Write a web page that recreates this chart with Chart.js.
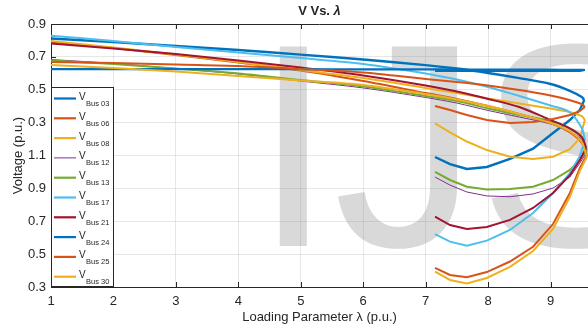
<!DOCTYPE html>
<html>
<head>
<meta charset="utf-8">
<script src="https://cdn.jsdelivr.net/npm/chart.js@4.4.0/dist/chart.umd.min.js"></script>
<style>
  html, body { margin: 0; padding: 0; background: #fff; }
  #wrap { width: 588px; height: 328px; position: relative; }
</style>
</head>
<body>
<div id="wrap"><canvas id="pvChart"></canvas></div>
<script>
// loading parameter steps (upper branch from base case, lower branch back from the nose)
const lambdaUpper = [1, 2, 3, 4, 5, 6, 7, 7.5, 8, 8.5, 9, 9.3, 9.5];
const lambdaLower = [9.47, 9.31, 9.04, 8.72, 8.35, 7.98, 7.66, 7.39, 7.15];

const busNames = ['Bus 03', 'Bus 06', 'Bus 08', 'Bus 12', 'Bus 13', 'Bus 17', 'Bus 21', 'Bus 24', 'Bus 25', 'Bus 30'];
const yTickLabels = ['0.3', '0.5', '0.7', '0.9', '1.1', '0.3', '0.5', '0.7', '0.9'];

// nose point of each curve
const noseLambda = [9.54, 9.58, 9.55, 9.58, 9.58, 9.55, 9.57, 9.55, 9.55, 9.58];
const noseV = [1.438, 1.103, 1.316, 1.121, 1.133, 1.194, 1.146, 1.620, 1.395, 1.091];

// voltages on the plot's continuous axis (0.3 .. 1.9)
const vUpperBus03 = [1.812, 1.790, 1.766, 1.742, 1.714, 1.684, 1.650, 1.629, 1.602, 1.571, 1.535, 1.495, 1.456];
const vUpperBus06 = [1.790, 1.754, 1.711, 1.666, 1.617, 1.553, 1.480, 1.444, 1.401, 1.352, 1.298, 1.243, 1.176];
const vUpperBus08 = [1.796, 1.757, 1.714, 1.669, 1.620, 1.571, 1.511, 1.480, 1.447, 1.416, 1.386, 1.365, 1.340];
const vUpperBus12 = [1.684, 1.660, 1.629, 1.596, 1.553, 1.511, 1.453, 1.419, 1.374, 1.334, 1.292, 1.249, 1.194];
const vUpperBus13 = [1.678, 1.657, 1.629, 1.599, 1.559, 1.520, 1.462, 1.431, 1.386, 1.346, 1.310, 1.267, 1.212];
const vUpperBus17 = [1.829, 1.796, 1.760, 1.726, 1.693, 1.657, 1.599, 1.562, 1.517, 1.462, 1.404, 1.365, 1.267];
const vUpperBus21 = [1.782, 1.751, 1.717, 1.678, 1.635, 1.587, 1.526, 1.489, 1.444, 1.395, 1.316, 1.267, 1.212];
const vUpperBus24 = [1.626, 1.626, 1.626, 1.625, 1.625, 1.624, 1.624, 1.623, 1.623, 1.622, 1.622, 1.621, 1.621];
const vUpperBus25 = [1.669, 1.663, 1.653, 1.644, 1.626, 1.605, 1.565, 1.547, 1.526, 1.498, 1.465, 1.438, 1.413];
const vUpperBus30 = [1.650, 1.632, 1.611, 1.584, 1.556, 1.529, 1.474, 1.441, 1.401, 1.352, 1.298, 1.249, 1.182];

const vLowerBus03 = [1.377, 1.316, 1.237, 1.142, 1.079, 1.030, 1.018, 1.048, 1.091];
const vLowerBus06 = [1.024, 0.872, 0.683, 0.545, 0.455, 0.391, 0.359, 0.373, 0.416];
const vLowerBus08 = [1.206, 1.139, 1.093, 1.079, 1.093, 1.133, 1.185, 1.241, 1.296];
const vLowerBus12 = [1.054, 0.969, 0.902, 0.866, 0.849, 0.854, 0.878, 0.920, 0.969];
const vLowerBus13 = [1.073, 1.012, 0.951, 0.910, 0.896, 0.893, 0.910, 0.951, 1.000];
const vLowerBus17 = [1.097, 0.993, 0.872, 0.750, 0.647, 0.582, 0.551, 0.576, 0.622];
const vLowerBus21 = [1.073, 0.981, 0.872, 0.781, 0.708, 0.665, 0.653, 0.677, 0.728];
const vLowerBus24 = [1.615, 1.615, 1.615, 1.615, 1.615, 1.615, 1.615, 1.615, 1.615];
const vLowerBus25 = [1.371, 1.346, 1.322, 1.304, 1.298, 1.316, 1.346, 1.377, 1.401];
const vLowerBus30 = [1.007, 0.849, 0.653, 0.519, 0.423, 0.355, 0.322, 0.343, 0.393];

const upperSeries = [vUpperBus03, vUpperBus06, vUpperBus08, vUpperBus12, vUpperBus13, vUpperBus17, vUpperBus21, vUpperBus24, vUpperBus25, vUpperBus30];
const lowerSeries = [vLowerBus03, vLowerBus06, vLowerBus08, vLowerBus12, vLowerBus13, vLowerBus17, vLowerBus21, vLowerBus24, vLowerBus25, vLowerBus30];

// matlab default line colours
const busColors = ['#0072BD', '#D95319', '#EDB120', '#7E2F8E', '#77AC30', '#4DBEEE', '#A2142F', '#0072BD', '#D95319', '#EDB120'];
const busWidths = [2.4, 2, 2, 1, 2, 2, 2, 2.2, 2, 2];

const FONT = '"Liberation Sans", Arial, Helvetica, sans-serif';
const TEXT = '#262626';

const datasets = [];
busNames.forEach(function (name, i) {
    const nose = { x: noseLambda[i], y: noseV[i] };
    const up = lambdaUpper.map((l, k) => ({ x: l, y: upperSeries[i][k] }));
    up.push(nose);
    const low = [nose].concat(lambdaLower.map((l, k) => ({ x: l, y: lowerSeries[i][k] })));
    const base = {
        showLine: true, pointRadius: 0, borderColor: busColors[i],
        borderWidth: busWidths[i], fill: false, order: busNames.length - i
    };
    datasets.push(Object.assign({ label: name, data: up, tension: 0.3 }, base));
    datasets.push(Object.assign({ label: name + ' low', data: low, tension: 0 }, base));
});

// big grey "IJS" behind the curves
const watermark = {
    id: 'watermark',
    beforeDatasetsDraw(chart) {
        const { ctx, chartArea: a } = chart;
        ctx.save();
        ctx.beginPath();
        ctx.rect(a.left, a.top, a.width, a.height);
        ctx.clip();
        ctx.fillStyle = 'rgba(130,130,130,0.3)';
        ctx.font = '290px ' + FONT;
        ctx.textBaseline = 'alphabetic';
        ctx.fillText('IJS', a.left + 202, a.top + 222);
        ctx.restore();
    }
};

// inward tick marks + top box line, matlab style
const boxTicks = {
    id: 'boxTicks',
    afterDatasetsDraw(chart) {
        const { ctx, chartArea: a, scales } = chart;
        ctx.save();
        ctx.strokeStyle = TEXT;
        ctx.lineWidth = 1;
        ctx.beginPath();
        ctx.moveTo(a.left, a.top + 0.5);
        ctx.lineTo(a.right, a.top + 0.5);
        scales.x.ticks.forEach(t => {
            const px = Math.round(scales.x.getPixelForValue(t.value)) + 0.5;
            ctx.moveTo(px, a.bottom); ctx.lineTo(px, a.bottom - 5);
            ctx.moveTo(px, a.top); ctx.lineTo(px, a.top + 5);
        });
        scales.y.ticks.forEach(t => {
            const py = Math.round(scales.y.getPixelForValue(t.value)) + 0.5;
            ctx.moveTo(a.left, py); ctx.lineTo(a.left + 5, py);
        });
        ctx.stroke();
        ctx.restore();
    }
};

// legend with V_Bus subscripts + title
const busLegend = {
    id: 'busLegend',
    afterDraw(chart) {
        const { ctx, chartArea: a } = chart;
        const x0 = a.left, y0 = 87, w = 63, h = a.bottom - y0;
        ctx.save();
        ctx.fillStyle = '#fff';
        ctx.fillRect(x0, y0, w, h);
        ctx.strokeStyle = TEXT;
        ctx.lineWidth = 1;
        ctx.strokeRect(x0 + 0.5, y0 + 0.5, w - 1, h - 1);
        busNames.forEach(function (name, i) {
            const y = y0 + 11.5 + i * 19.8;
            ctx.strokeStyle = busColors[i];
            ctx.lineWidth = busWidths[i] === 1 ? 1 : 2.2;
            ctx.beginPath();
            ctx.moveTo(x0 + 3, y);
            ctx.lineTo(x0 + 25, y);
            ctx.stroke();
            ctx.fillStyle = TEXT;
            ctx.textBaseline = 'alphabetic';
            ctx.font = '10px ' + FONT;
            ctx.fillText('V', x0 + 28, y + 1.5);
            ctx.font = '7.5px ' + FONT;
            ctx.fillText(name, x0 + 35, y + 7.5);
        });

        // title "V Vs. λ"
        const cx = (a.left + a.right) / 2;
        ctx.fillStyle = TEXT;
        ctx.textBaseline = 'middle';
        ctx.font = 'bold 13px ' + FONT;
        const part1 = 'V Vs. ';
        const w1 = ctx.measureText(part1).width;
        ctx.font = 'bold italic 13px ' + FONT;
        const w2 = ctx.measureText('λ').width;
        const sx = cx - (w1 + w2) / 2;
        ctx.font = 'bold 13px ' + FONT;
        ctx.fillText(part1, sx, 11);
        ctx.font = 'bold italic 13px ' + FONT;
        ctx.fillText('λ', sx + w1, 11);
        ctx.restore();
    }
};

new Chart(document.getElementById('pvChart'), {
    type: 'scatter',
    data: { datasets: datasets },
    options: {
        responsive: true,
        maintainAspectRatio: false,
        animation: false,
        layout: { padding: { top: 24, right: 0, left: 0, bottom: 0 } },
        plugins: {
            legend: { display: false },
            title: { display: false },
            tooltip: { enabled: false }
        },
        scales: {
            x: {
                type: 'linear',
                min: 1,
                max: 9.6,
                afterFit: s => { s.height = 41; },
                ticks: {
                    stepSize: 1, includeBounds: false, padding: 7,
                    color: TEXT, font: { family: FONT, size: 13 },
                    callback: v => String(v)
                },
                grid: { color: 'rgba(38,38,38,0.11)', drawTicks: false },
                border: { color: TEXT },
                title: {
                    display: true, text: 'Loading Parameter λ (p.u.)', color: TEXT,
                    font: { family: FONT, size: 13 }, padding: { top: 0, bottom: 3 }
                }
            },
            y: {
                type: 'linear',
                min: 0.3,
                max: 1.9,
                afterFit: s => { s.width = 51; },
                ticks: {
                    stepSize: 0.2, padding: 5,
                    color: TEXT, font: { family: FONT, size: 13 },
                    callback: (v, i) => yTickLabels[i]
                },
                grid: { color: 'rgba(38,38,38,0.11)', drawTicks: false },
                border: { color: TEXT },
                title: {
                    display: true, text: 'Voltage (p.u.)', color: TEXT,
                    font: { family: FONT, size: 13 }, padding: { top: 11, bottom: 0 }
                }
            }
        }
    },
    plugins: [watermark, boxTicks, busLegend]
});
</script>
</body>
</html>
